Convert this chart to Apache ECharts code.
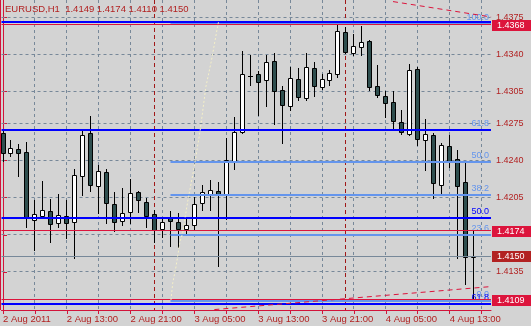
<!DOCTYPE html>
<html><head><meta charset="utf-8">
<script src="https://cdn.jsdelivr.net/npm/echarts@6/dist/echarts.min.js"></script>
<style>html,body{margin:0;padding:0;background:#D3D3D3}#c{width:531px;height:326px}</style>
</head><body><div id="c"></div>
<script>
// ---------- data ----------
const symbolTitle = 'EURUSD,H1';
const xLabelBars = [0, 8, 16, 24, 32, 40, 48, 56];
const xLabels = ['2 Aug 2011', '2 Aug 13:00', '2 Aug 21:00', '3 Aug 05:00', '3 Aug 13:00', '3 Aug 21:00', '4 Aug 05:00', '4 Aug 13:00'];
const xTickBars = [0, 4, 8, 12, 16, 20, 24, 28, 32, 36, 40, 44, 48, 52, 56, 60];
const gridBars = [4, 8, 12, 16, 20, 24, 28, 32, 36, 40, 44, 48, 52, 56, 60];
const dayBreakBars = [19, 43];
const yLabels = [1.4375, 1.4340, 1.4305, 1.4275, 1.4240, 1.4205, 1.4170, 1.4135, 1.4105];

const opens  = [1.42662,1.42470,1.42508,1.42480,1.41836,1.41880,1.41921,1.41808,1.41874,1.41817,
                1.42252,1.42659,1.42158,1.42290,1.41988,1.41827,1.41912,1.42101,1.42007,1.41893,
                1.41751,1.41864,1.41817,1.41757,1.41795,1.41997,1.42088,1.42111,1.42078,1.42391,
                1.42674,1.43195,1.43220,1.43157,1.43343,1.43066,1.42911,1.43170,1.42987,1.43274,
                1.43091,1.43157,1.43217,1.43611,1.43416,1.43473,1.43530,1.43107,1.43012,1.42953,
                1.42763,1.42653,1.43265,1.42593,1.42640,1.42173,1.42539,1.42416,1.42196,1.4149];
const highs  = [1.42690,1.42596,1.42558,1.42577,1.42028,1.42208,1.42038,1.42085,1.42028,1.42319,
                1.42684,1.42823,1.42357,1.42322,1.42104,1.42142,1.42227,1.42114,1.42044,1.41934,
                1.41855,1.41921,1.41902,1.41864,1.42060,1.42170,1.42218,1.42196,1.42618,1.42811,
                1.43438,1.43400,1.43242,1.43393,1.43419,1.43100,1.43280,1.43274,1.43416,1.43327,
                1.43220,1.43258,1.43684,1.43660,1.43599,1.43674,1.43540,1.43305,1.43059,1.43059,
                1.42880,1.43315,1.43280,1.42795,1.42659,1.42570,1.42637,1.42501,1.42391,1.4174];
const lows   = [1.42400,1.42447,1.42258,1.41776,1.41555,1.41855,1.41634,1.41770,1.41672,1.41486,
                1.42073,1.42111,1.41908,1.41808,1.41738,1.41789,1.41808,1.41918,1.41776,1.41634,
                1.41681,1.41590,1.41586,1.41713,1.41751,1.41934,1.41934,1.41407,1.41846,1.42324,
                1.42665,1.43116,1.42826,1.42911,1.42744,1.42565,1.42880,1.42974,1.42974,1.43012,
                1.43076,1.43116,1.43185,1.43416,1.43393,1.43393,1.43063,1.43000,1.42816,1.42707,
                1.42650,1.42637,1.42549,1.42312,1.42050,1.42078,1.42343,1.41486,1.41240,1.4110];
const closes = [1.42476,1.42517,1.42470,1.41855,1.41893,1.41934,1.41798,1.41884,1.41808,1.42262,
                1.42640,1.42167,1.42300,1.41997,1.41817,1.41902,1.42092,1.42026,1.41880,1.41742,
                1.41817,1.41827,1.41751,1.41792,1.41990,1.42101,1.42120,1.42088,1.42407,1.42672,
                1.43220,1.43195,1.43138,1.43334,1.43053,1.42920,1.43180,1.42996,1.43284,1.43100,
                1.43170,1.43230,1.43624,1.43426,1.43482,1.43520,1.43091,1.43015,1.42943,1.42773,
                1.42669,1.43258,1.42603,1.42650,1.42192,1.42549,1.42400,1.42164,1.41489,1.4150];

// objects on the chart
const fibLow = 1.4108, fibHigh = 1.4369, fibStartBar = 21;
const fibLevels = [0, 23.6, 38.2, 50.0, 61.8, 100.0];
const blueLines = [1.43712, 1.42689, 1.41861, 1.41047];
const blueLabels = ['', '', '50.0', '61.8'];
const redLines = [1.4368, 1.4174, 1.4109];
const bidPrice = 1.4150;
const topChannelBars = [48.9, 61.2], topChannelPrices = [1.43900, 1.43755];
const botChannelBars = [26.5, 61.2], botChannelPrices = [1.40995, 1.41212];
const arcBars   = [21.06, 21.28, 21.69, 22.19, 22.53, 23.15, 23.98, 24.73, 25.44, 26.15, 26.9, 27.05];
const arcPrices = [1.41085, 1.41245, 1.41399, 1.41635, 1.41717, 1.42012, 1.42342, 1.42689, 1.43097, 1.43349, 1.43663, 1.43720];

// ---------- chart ----------
const FONT = '"Liberation Sans", Arial, sans-serif';
const C_TEXT = '#B22222';
const C_AXIS = '#D2143A';
const C_GRID = '#778899';

const chart = echarts.init(document.getElementById('c'), null, {renderer: 'canvas'});

function hLines(prices, opt) {
  return {
    type: 'custom', silent: true, z: opt.z, clip: false,
    data: prices.map((p, k) => [opt.startBar != null ? opt.startBar : 0, p, k]),
    renderItem(params, api) {
      const cs = params.coordSys;
      const k = api.value(2);
      const y0 = api.coord([0, api.value(1)])[1];
      const y = (opt.width % 2) ? Math.floor(y0) + 0.5 : Math.round(y0);
      const x1 = opt.startBar != null ? api.coord([opt.startBar, api.value(1)])[0] : cs.x;
      const x2 = cs.x + cs.width;
      const children = [{type: 'line', shape: {x1, y1: y, x2, y2: y},
        style: {stroke: opt.color, lineWidth: opt.width, lineDash: opt.dash || null}}];
      if (opt.labels && opt.labels[k]) {
        children.push({type: 'text', z2: 5, style: {text: opt.labels[k], x: x2 - 2, y: y - opt.width / 2 - 0.5,
          align: 'right', verticalAlign: 'bottom', fill: opt.labelColor, font: '9px ' + FONT}});
      }
      return {type: 'group', children};
    }
  };
}

function vLines(bars, color, dash, z) {
  return {
    type: 'custom', silent: true, z,
    data: bars.map(b => [b, 1.42]),
    renderItem(params, api) {
      const cs = params.coordSys;
      const x = Math.floor(api.coord([api.value(0), api.value(1)])[0]) + 0.5;
      return {type: 'line', shape: {x1: x, y1: cs.y, x2: x, y2: cs.y + cs.height},
        style: {stroke: color, lineWidth: 1, lineDash: dash}};
    }
  };
}

function priceBoxes(prices, color) {
  return {
    type: 'custom', silent: true, z: 20, clip: false,
    data: prices.map(p => [0, p]),
    renderItem(params, api) {
      const cs = params.coordSys;
      const y = Math.round(api.coord([0, api.value(1)])[1]);
      const x = cs.x + cs.width + 1;
      return {type: 'group', children: [
        {type: 'rect', shape: {x, y: y - 5, width: 40, height: 11}, style: {fill: color}},
        {type: 'text', z2: 2, style: {text: api.value(1).toFixed(4), x: x + 5, y: y + 0.5, verticalAlign: 'middle',
          fill: '#FFFFFF', font: '9px ' + FONT}}
      ]};
    }
  };
}

const candleData = opens.map((o, i) => [i, o, closes[i], lows[i], highs[i]]);
function renderCandle(params, api) {
  const i = api.value(0), o = api.value(1), c = api.value(2), l = api.value(3), h = api.value(4);
  const x = Math.floor(api.coord([i, o])[0]) + 0.5;
  const yO = api.coord([i, o])[1], yC = api.coord([i, c])[1];
  const yH = Math.round(api.coord([i, h])[1]), yL = Math.round(api.coord([i, l])[1]);
  const top = Math.round(Math.min(yO, yC)) + 0.5, bot = Math.round(Math.max(yO, yC)) + 0.5;
  const children = [{type: 'line', shape: {x1: x, y1: yH, x2: x, y2: yL + 1}, style: {stroke: '#000', lineWidth: 1}}];
  if (bot - top < 1) {
    children.push({type: 'line', shape: {x1: x - 2.5, y1: top, x2: x + 2.5, y2: top}, style: {stroke: '#000', lineWidth: 1}});
  } else {
    children.push({type: 'rect', shape: {x: x - 2, y: top, width: 4, height: bot - top},
      style: {fill: c >= o ? '#FFFFFF' : '#2F4F4F', stroke: '#000', lineWidth: 1}});
  }
  return {type: 'group', children};
}

const last = opens.length - 1;
const titleText = symbolTitle + '  ' + [opens[last], highs[last], lows[last], closes[last]].map(v => v.toFixed(4)).join(' ');

const option = {
  animation: false,
  backgroundColor: '#D3D3D3',
  title: {text: titleText, left: 5, top: 4, padding: 0,
    textStyle: {color: C_TEXT, fontSize: 9.5, fontWeight: 'normal', fontFamily: FONT}},
  grid: {left: 0, right: 40, top: 0, bottom: 16, containLabel: false},
  xAxis: {
    type: 'value', min: -0.1875, max: 61.1875,
    axisLine: {show: true, onZero: false, lineStyle: {color: C_AXIS, width: 1}},
    axisTick: {show: true, length: 4, customValues: xTickBars, lineStyle: {color: C_AXIS}},
    axisLabel: {show: true, customValues: xLabelBars, align: 'left', margin: 4,
      color: C_TEXT, fontSize: 9.5, fontFamily: FONT,
      formatter: v => { const k = xLabelBars.indexOf(Math.round(v)); return k >= 0 ? xLabels[k] : ''; }},
    splitLine: {show: false}
  },
  yAxis: {
    type: 'value', position: 'right', min: 1.40991, max: 1.43915, scale: true,
    axisLine: {show: true, lineStyle: {color: C_AXIS, width: 1}},
    axisTick: {show: true, length: 4, customValues: yLabels, lineStyle: {color: C_AXIS}},
    axisLabel: {show: true, customValues: yLabels, margin: 5, color: C_TEXT, fontSize: 9, fontFamily: FONT,
      formatter: v => v.toFixed(4)},
    splitLine: {show: false}
  },
  graphic: [{type: 'line', shape: {x1: 0.5, y1: 0, x2: 0.5, y2: 310}, style: {stroke: C_AXIS, lineWidth: 1}, z: 30}],
  series: [
    hLines(yLabels, {color: C_GRID, width: 1, dash: [3, 3], z: 1}),
    vLines(gridBars, C_GRID, [3, 3], 1),
    vLines(dayBreakBars, '#A01818', [4, 3], 1),
    {type: 'custom', z: 3, silent: true, data: candleData, renderItem: renderCandle},
    hLines(fibLevels.map(l => fibLow + (fibHigh - fibLow) * l / 100),
      {color: '#6495ED', width: 2, z: 4, startBar: fibStartBar, labels: fibLevels.map(l => l.toFixed(1)), labelColor: '#6495ED'}),
    hLines(blueLines, {color: '#0000FF', width: 2, z: 5, labels: blueLabels, labelColor: '#0000FF'}),
    hLines(redLines, {color: '#DC143C', width: 1, z: 6}),
    hLines([bidPrice], {color: '#778899', width: 1, z: 6}),
    {type: 'line', z: 7, silent: true, showSymbol: false, data: topChannelBars.map((b, k) => [b, topChannelPrices[k]]),
      lineStyle: {color: '#DC143C', width: 1, type: [5, 4]}},
    {type: 'line', z: 7, silent: true, showSymbol: false, data: botChannelBars.map((b, k) => [b, botChannelPrices[k]]),
      lineStyle: {color: '#DC143C', width: 1, type: [5, 4]}},
    {type: 'line', z: 7, silent: true, showSymbol: false, data: arcBars.map((b, k) => [b, arcPrices[k]]),
      lineStyle: {color: '#F5F0C8', width: 1, type: [2, 2]}},
    priceBoxes([redLines[0], redLines[1], redLines[2]], '#DC143C'),
    priceBoxes([bidPrice], '#B22222')
  ]
};
chart.setOption(option);
</script>
</body></html>
